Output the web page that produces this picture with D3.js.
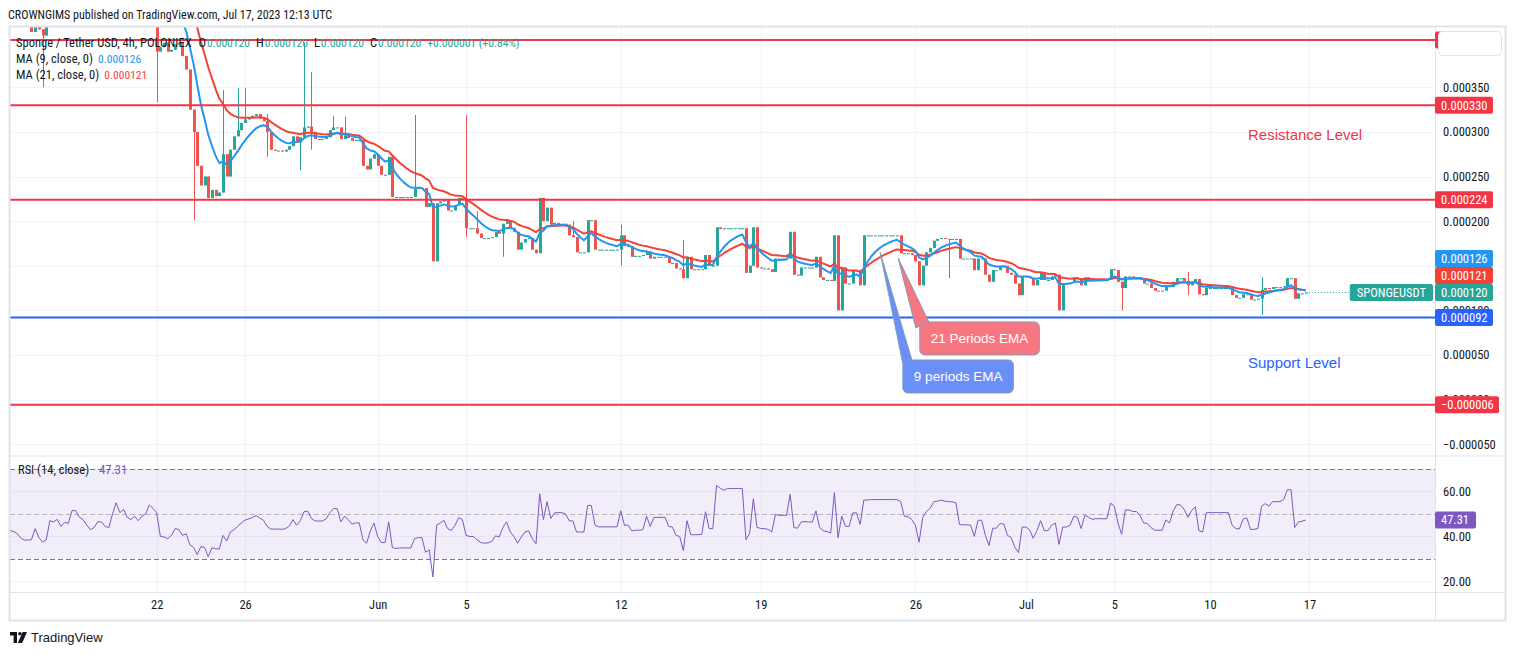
<!DOCTYPE html>
<html lang="en">
<head>
<meta charset="utf-8">
<title>Sponge / Tether USD, 4h</title>
<script src="https://cdn.jsdelivr.net/npm/d3@7/dist/d3.min.js"></script>
<style>
    body { margin: 0; background: #ffffff; }
    #chart-area { width: 1515px; height: 655px; }
</style>
</head>
<body>
<div id="chart-area"></div>
<script>
// prices are kept in millionths of a USDT (120 -> 0.000120)

// 4h closes, one per bar, first bar sits at the left edge of the pane
const closes = [
    560,545,530,500,470,420,412,440,415,408,
    445,470,475,490,470,485,480,530,535,520,
    515,500,490,500,515,515,505,500,540,580,
    560,575,555,550,560,550,565,575,610,600,
    390,395,400,390,392,398,400,385,370,325,
    300,262,240,250,226,235,228,232,275,250,
    280,295,302,310,314,316,318,320,315,312,
    300,280,279,279,278,280,284,295,288,294,
    305,306,300,292,292,292,294,302,305,305,
    292,296,293,290,291,291,262,258,270,275,
    262,252,252,272,227,227,227,227,227,227,
    236,237,237,216,220,155,220,222,224,212,
    212,218,226,224,192,192,192,186,181,181,
    181,182,188,186,197,200,192,188,168,176,
    180,181,168,164,226,200,215,196,198,197,
    197,196,184,182,165,165,165,201,201,168,
    168,168,168,168,168,168,184,172,172,160,
    161,161,162,166,158,160,160,160,160,153,
    153,147,146,136,160,146,146,146,146,162,
    150,150,193,191,192,192,192,192,192,192,
    142,150,193,148,147,147,146,143,158,158,
    158,158,188,140,139,148,148,148,148,160,
    137,134,134,133,184,100,148,130,130,145,
    145,128,184,184,184,184,184,184,184,184,
    184,184,164,164,164,162,155,128,150,165,
    170,178,180,181,180,180,180,180,158,158,
    158,158,145,158,158,140,132,145,145,150,
    150,142,140,130,117,138,138,136,128,134,
    142,134,134,138,140,100,130,130,131,137,
    136,128,137,135,134,134,134,134,134,146,
    145,132,125,138,138,137,137,135,130,130,
    125,122,122,122,128,126,132,136,136,133,
    128,132,135,118,117,125,125,125,125,125,
    125,125,117,114,114,118,118,112,112,113,
    123,125,124,126,126,126,127,136,136,113,
    119,119,120
];

// long shadows: [bar, high, low]
const wicks = [
    [9, 415, 350], [40, 600, 333], [50, 300, 201], [58, 347, 258], [62, 349, 300],
    [64, 349, 310], [70, 320, 272], [79, 294, 257], [80, 400, 294], [82, 367, 280],
    [88, 318, 302], [91, 317, 292], [110, 319, 227], [124, 319, 182], [127, 211, 186],
    [134, 197, 160], [153, 200, 182], [166, 196, 150], [183, 179, 136], [255, 180, 136],
    [302, 132, 100], [320, 143, 117], [340, 137, 95]
];

// RSI(14) per bar
const rsiValues = [
    42.7,42.3,41.5,39.5,38.4,38.4,38.6,43.5,39.5,37.5,
    38.5,47,46.5,47.6,44.5,46.3,45.8,51.5,51.5,48.6,
    47.5,45.1,43,44,46.5,46.5,44.5,43.9,50,55,
    50.6,52,48.5,47.5,49,47,49,50,54,52.5,
    50.5,40,39.8,39,40.5,43.5,43.1,40.5,41.2,36.3,
    35.2,32,35.5,35.2,31,35,34.5,34.5,40.5,38,
    42,43,44.5,46,47.3,47.8,48.5,49.3,48.2,47.2,
    44.5,43.3,43.3,43.3,43.2,43.5,44.6,47.5,45,47,
    51,51.3,48,46.9,46.9,46.9,47.8,50.5,52.4,52.4,
    46.5,49,47.5,45.5,46,46.1,38.5,37,42.5,46,
    40,37.3,37.3,46.5,35,34.7,34.9,34.9,34.9,34.9,
    39,39.5,39.5,33,34,22,45,46,47.2,43.5,
    42.7,45,48.4,47.5,40.5,40,40,38.5,37.3,37,
    37.2,37.8,40.3,39.8,44,46.5,42,40,37,39.8,
    42,42.5,39,36.8,59,47.5,55.5,48,50.5,50.6,
    50.6,50,47,46.9,42,42,42,53.8,53.8,45,
    44.3,44.3,44.3,44.3,44.3,44.3,51.4,45,45,42.5,
    42.8,42.8,43,49,44.5,48.5,48.5,48.5,48.5,44.5,
    44.2,40.5,40,33.7,47,40.8,40.8,40.8,41,51,
    43.5,43.5,62.7,61.5,60.6,61.3,61.3,61.3,61.3,61.3,
    38.5,41.5,56.8,44,43.6,43.5,43.2,42,49.8,49.4,
    49.4,49.4,58.7,44,43.7,46.5,46.6,46.5,46.4,51.4,
    44,42.5,42.2,41.5,59.5,39.5,49.1,44.5,44.5,50.5,
    50.5,45.4,56.2,56.2,56.4,56.4,56.4,56.4,56.4,56.4,
    56.4,56.4,55.5,49,48.8,47.5,45,37.5,48.5,51.2,
    52.5,55.5,55.7,56.2,55.7,55.5,55.4,55,45.3,45.2,
    45.2,45,40,47.2,47.2,40.5,36,43.7,43.7,45.8,
    45.5,40.5,39.5,35.2,32.8,44.2,44.2,43,39.2,42.6,
    47,42.6,42.6,45,46,36.5,44.2,44.2,45,49,
    48.5,43.5,49.4,48.6,47.6,47.9,47.9,47.9,47.9,54.8,
    53.5,46,41,51.8,51.8,51.1,51.1,49.2,46,45.8,
    43.9,42.8,42.8,42.8,47.4,46,51.4,54.2,54,52,
    48.5,51.6,53.2,42.5,42,50.6,50.6,50.6,50.6,50.6,
    50.6,50.6,45,43.5,43.4,47.8,48.2,43.1,43.2,43.6,
    53.5,54.6,53.5,55.5,55.5,55.5,56.5,60.8,60.8,44,
    46.5,46.8,47.31
];

// last bar as shown in the legend: open, high, low, close
const lastBar = [120, 120, 120, 120];
// legend values of the two averages: 9 and 21 periods
const maLast = [126, 121];

// time axis
const tickBars = [40, 64, 100, 124, 166, 204, 246, 276, 300, 326, 353];
const tickLabels = ["22", "26", "Jun", "5", "12", "19", "26", "Jul", "5", "10", "17"];

// price axis and rsi axis
const priceTicks = [-50, 0, 50, 100, 150, 200, 250, 300, 350];
const rsiTicks = [60, 40, 20];

// horizontal levels drawn on the chart
const levelPrices = [403, 330, 224, 92, -6];
const levelKinds = ["resistance", "resistance", "resistance", "support", "resistance"];

// text notes: anchored at [bar, price]
const noteTexts = ["Resistance Level", "Support Level"];
const noteBars = [336.3, 336.3];
const notePrices = [296.5, 40.9];
const noteKinds = ["resistance", "support"];

// callouts pointing at the averages
const calloutTexts = ["21 Periods EMA", "9 periods EMA"];
const calloutKinds = ["ema21", "ema9"];
const calloutTipBars = [241.3, 236.4];
const calloutTipPrices = [158.6, 165.4];
const calloutBoxBars = [247.2, 242.6];
const calloutBoxPrices = [87.0, 44.3];


class SpongeChart {

    constructor(parentElement) {
        this.parentElement = parentElement;
        this.initVis();
    }

    initVis() {
        let vis = this;

        vis.width = 1515;
        vis.height = 655;

        // frame and panes
        vis.frame = {left: 10, right: 1505, top: 27, bottom: 620};
        vis.axisX = 1435;
        vis.pricePane = {top: 27, bottom: 455};
        vis.rsiPane = {top: 457, bottom: 592};

        vis.uiFont = "'Liberation Sans Narrow', 'Roboto Condensed', Roboto, sans-serif";
        vis.drawFont = "'Liberation Sans', Arial, sans-serif";

        vis.colors = {
            text: '#131722',
            up: '#26a69a',
            down: '#ef5350',
            grid: '#f0f3fa',
            border: '#e0e3eb',
            resistance: '#f23645',
            support: '#2962ff',
            ema9: '#2196f3',
            ema21: '#f44336',
            last: '#26a69a',
            rsi: '#7e57c2'
        };

        vis.svg = d3.select("#" + vis.parentElement).append("svg")
            .attr("width", vis.width)
            .attr("height", vis.height)
            .style("display", "block");

        vis.svg.append("rect")
            .attr("width", vis.width)
            .attr("height", vis.height)
            .attr("fill", "#ffffff");

        // bar index -> x, one bar every 3.683 px
        vis.barSpacing = 3.683;
        vis.x = d3.scaleLinear()
            .domain([0.17, 0.17 + (vis.axisX - vis.frame.left) / vis.barSpacing])
            .range([vis.frame.left, vis.axisX]);

        vis.y = d3.scaleLinear()
            .domain([-62.2, 417.6])
            .range([vis.pricePane.bottom, vis.pricePane.top]);

        vis.yRsi = d3.scaleLinear()
            .domain([15.33, 75.33])
            .range([vis.rsiPane.bottom, vis.rsiPane.top]);

        vis.formatPrice = v => (v < 0 ? "\u2212" : "") + (Math.abs(v) / 1e6).toFixed(6);

        // clip paths for both panes
        let defs = vis.svg.append("defs");
        defs.append("clipPath").attr("id", "clip-price")
            .append("rect")
            .attr("x", vis.frame.left).attr("y", vis.pricePane.top)
            .attr("width", vis.axisX - vis.frame.left)
            .attr("height", vis.pricePane.bottom - vis.pricePane.top);
        defs.append("clipPath").attr("id", "clip-rsi")
            .append("rect")
            .attr("x", vis.frame.left).attr("y", vis.rsiPane.top)
            .attr("width", vis.axisX - vis.frame.left)
            .attr("height", vis.rsiPane.bottom - vis.rsiPane.top);

        vis.wrangleData();
    }

    ema(values, period) {
        let k = 2 / (period + 1);
        let prev = values[0];
        return values.map((v, i) => {
            prev = i === 0 ? v : prev + k * (v - prev);
            return prev;
        });
    }

    wrangleData() {
        let vis = this;

        vis.candles = closes.map((c, i) => {
            let o = i > 0 ? closes[i - 1] : c;
            return {i: i, open: o, close: c, high: Math.max(o, c), low: Math.min(o, c)};
        });
        wicks.forEach(w => {
            let d = vis.candles[w[0]];
            d.high = Math.max(d.high, w[1]);
            d.low = Math.min(d.low, w[2]);
        });

        vis.ema9 = vis.ema(closes, 9);
        vis.ema21 = vis.ema(closes, 21);

        let n = closes.length;
        vis.change = closes[n - 1] - closes[n - 2];
        vis.changePct = vis.change / closes[n - 2] * 100;

        vis.updateVis();
    }

    updateVis() {
        let vis = this;
        let c = vis.colors;
        let paneW = vis.axisX - vis.frame.left;

        // ---- grid ----
        let grid = vis.svg.append("g");
        grid.selectAll(".hgrid")
            .data(priceTicks)
            .enter().append("line")
            .attr("x1", vis.frame.left).attr("x2", vis.axisX)
            .attr("y1", d => Math.round(vis.y(d)) + 0.5)
            .attr("y2", d => Math.round(vis.y(d)) + 0.5)
            .attr("stroke", c.grid);
        grid.selectAll(".vgrid-p")
            .data(tickBars)
            .enter().append("line")
            .attr("x1", d => Math.round(vis.x(d)) + 0.5)
            .attr("x2", d => Math.round(vis.x(d)) + 0.5)
            .attr("y1", vis.pricePane.top).attr("y2", vis.pricePane.bottom)
            .attr("stroke", c.grid);
        grid.selectAll(".vgrid-r")
            .data(tickBars)
            .enter().append("line")
            .attr("x1", d => Math.round(vis.x(d)) + 0.5)
            .attr("x2", d => Math.round(vis.x(d)) + 0.5)
            .attr("y1", vis.rsiPane.top).attr("y2", vis.rsiPane.bottom)
            .attr("stroke", c.grid);
        grid.selectAll(".rgrid")
            .data(rsiTicks)
            .enter().append("line")
            .attr("x1", vis.frame.left).attr("x2", vis.axisX)
            .attr("y1", d => Math.round(vis.yRsi(d)) + 0.5)
            .attr("y2", d => Math.round(vis.yRsi(d)) + 0.5)
            .attr("stroke", c.grid);

        // ---- rsi band ----
        let rsiG = vis.svg.append("g").attr("clip-path", "url(#clip-rsi)");
        rsiG.append("rect")
            .attr("x", vis.frame.left)
            .attr("y", vis.yRsi(70))
            .attr("width", paneW)
            .attr("height", vis.yRsi(30) - vis.yRsi(70))
            .attr("fill", c.rsi)
            .attr("fill-opacity", 0.1);
        rsiG.selectAll(".band")
            .data([70, 50, 30])
            .enter().append("line")
            .attr("x1", vis.frame.left).attr("x2", vis.axisX)
            .attr("y1", d => Math.round(vis.yRsi(d)) + 0.5)
            .attr("y2", d => Math.round(vis.yRsi(d)) + 0.5)
            .attr("stroke", "#787b86")
            .attr("stroke-opacity", d => d === 50 ? 0.5 : 1)
            .attr("stroke-dasharray", "5,3");
        rsiG.append("path")
            .datum(rsiValues)
            .attr("fill", "none")
            .attr("stroke", c.rsi)
            .attr("stroke-width", 1)
            .attr("d", d3.line().x((d, i) => vis.x(i)).y(d => vis.yRsi(d)));

        // ---- candles ----
        let priceG = vis.svg.append("g").attr("clip-path", "url(#clip-price)");
        let candle = priceG.selectAll(".candle")
            .data(vis.candles)
            .enter().append("g")
            .attr("class", "candle");
        candle.append("line")
            .attr("x1", d => Math.round(vis.x(d.i)) + 0.5)
            .attr("x2", d => Math.round(vis.x(d.i)) + 0.5)
            .attr("y1", d => vis.y(d.high))
            .attr("y2", d => vis.y(d.low))
            .attr("stroke", d => d.close >= d.open ? c.up : c.down);
        candle.append("rect")
            .attr("x", d => Math.round(vis.x(d.i)) - 1)
            .attr("y", d => vis.y(Math.max(d.open, d.close)))
            .attr("width", 3)
            .attr("height", d => Math.max(1, Math.abs(vis.y(d.open) - vis.y(d.close))))
            .attr("fill", d => d.close >= d.open ? c.up : c.down);

        // ---- moving averages ----
        let maLine = d3.line().x((d, i) => vis.x(i)).y(d => vis.y(d));
        priceG.append("path")
            .datum(vis.ema21)
            .attr("fill", "none")
            .attr("stroke", c.ema21)
            .attr("stroke-width", 2)
            .attr("stroke-linejoin", "round")
            .attr("d", maLine);
        priceG.append("path")
            .datum(vis.ema9)
            .attr("fill", "none")
            .attr("stroke", c.ema9)
            .attr("stroke-width", 2)
            .attr("stroke-linejoin", "round")
            .attr("d", maLine);

        // ---- horizontal levels ----
        priceG.selectAll(".level")
            .data(levelPrices)
            .enter().append("line")
            .attr("x1", vis.frame.left).attr("x2", vis.axisX)
            .attr("y1", d => vis.y(d)).attr("y2", d => vis.y(d))
            .attr("stroke", (d, i) => c[levelKinds[i]])
            .attr("stroke-width", 2);

        let lastI = closes.length - 1;
        let lastClose = lastBar[3];

        // ---- notes ----
        vis.svg.selectAll(".note")
            .data(noteTexts)
            .enter().append("text")
            .attr("x", (d, i) => vis.x(noteBars[i]))
            .attr("y", (d, i) => vis.y(notePrices[i]))
            .attr("dy", "0.35em")
            .attr("font-family", vis.drawFont)
            .attr("font-size", 15)
            .attr("fill", (d, i) => c[noteKinds[i]])
            .text(d => d);

        // ---- callouts ----
        let calloutFill = {ema21: "#f7767f", ema9: "#6a8ff9"};
        let tailBase = {ema21: [-4, 6, 9, 0], ema9: [0, 4, 9, 0]};
        calloutTexts.forEach((label, i) => {
            let kind = calloutKinds[i];
            let tx = vis.x(calloutTipBars[i]), ty = vis.y(calloutTipPrices[i]);
            let bx = vis.x(calloutBoxBars[i]), by = vis.y(calloutBoxPrices[i]);
            let g = vis.svg.append("g");
            let b = tailBase[kind];
            g.append("path")
                .attr("d", `M${tx},${ty} L${bx + b[0]},${by + b[1]} L${bx + b[2]},${by + b[3]} Z`)
                .attr("fill", calloutFill[kind])
                .attr("stroke", "#7f9fb3")
                .attr("stroke-width", 1);
            let box = g.append("rect")
                .attr("x", bx).attr("y", by)
                .attr("height", 33)
                .attr("rx", 5)
                .attr("fill", calloutFill[kind])
                .attr("stroke", "#7f9fb3")
                .attr("stroke-width", 1);
            let t = g.append("text")
                .attr("x", bx + 11)
                .attr("y", by + 16.5)
                .attr("dy", "0.35em")
                .attr("font-family", vis.drawFont)
                .attr("font-size", 13.5)
                .attr("fill", "#ffffff")
                .text(label);
            box.attr("width", t.node().getComputedTextLength() + 22);
        });

        // ---- legend ----
        let valueSize = 11.6;
        let legend = vis.svg.append("g")
            .attr("font-family", vis.uiFont)
            .attr("font-size", 12.5)
            .attr("fill", c.text);
        let l1 = legend.append("text").attr("x", 16).attr("y", 42.7).attr("dy", "0.35em");
        l1.append("tspan").text("Sponge / Tether USD, 4h, POLONIEX");
        ["O", "H", "L", "C"].forEach((k, i) => {
            l1.append("tspan").attr("dx", i === 0 ? 7 : 6).text(k);
            l1.append("tspan").attr("dx", 1).attr("fill", c.up).attr("font-size", valueSize)
                .text(vis.formatPrice(lastBar[i]));
        });
        l1.append("tspan").attr("dx", 6).attr("fill", c.up).attr("font-size", valueSize)
            .text((vis.change >= 0 ? "+" : "\u2212") + vis.formatPrice(Math.abs(vis.change))
                + " (" + (vis.change >= 0 ? "+" : "\u2212") + Math.abs(vis.changePct).toFixed(2) + "%)");

        let l2 = legend.append("text").attr("x", 16).attr("y", 58.7).attr("dy", "0.35em");
        l2.append("tspan").text("MA (9, close, 0)");
        l2.append("tspan").attr("dx", 5).attr("fill", c.ema9).attr("font-size", valueSize)
            .text(vis.formatPrice(maLast[0]));
        let l3 = legend.append("text").attr("x", 16).attr("y", 75).attr("dy", "0.35em");
        l3.append("tspan").text("MA (21, close, 0)");
        l3.append("tspan").attr("dx", 5).attr("fill", c.ema21).attr("font-size", valueSize)
            .text(vis.formatPrice(maLast[1]));

        let l4 = legend.append("text").attr("x", 18).attr("y", 470).attr("dy", "0.35em");
        l4.append("tspan").text("RSI (14, close)");
        l4.append("tspan").attr("dx", 10).attr("fill", c.rsi).text(rsiValues[lastI].toFixed(2));

        // ---- frame and separators ----
        let frame = vis.svg.append("g").attr("stroke", c.border).attr("fill", "none");
        frame.append("rect")
            .attr("x", vis.frame.left - 0.5).attr("y", vis.frame.top - 0.5)
            .attr("width", vis.frame.right - vis.frame.left + 1)
            .attr("height", vis.frame.bottom - vis.frame.top + 1)
            .attr("stroke-width", 2);
        frame.append("line")
            .attr("x1", vis.axisX + 0.5).attr("x2", vis.axisX + 0.5)
            .attr("y1", vis.frame.top).attr("y2", vis.frame.bottom);
        frame.append("line")
            .attr("x1", vis.frame.left).attr("x2", vis.frame.right)
            .attr("y1", vis.pricePane.bottom + 1).attr("y2", vis.pricePane.bottom + 1);
        frame.append("line")
            .attr("x1", vis.frame.left).attr("x2", vis.frame.right)
            .attr("y1", vis.rsiPane.bottom + 0.5).attr("y2", vis.rsiPane.bottom + 0.5);

        // ---- axes ----
        let styleAxis = g => {
            g.attr("font-family", vis.uiFont).attr("font-size", 12.5).attr("color", c.text);
            g.select(".domain").remove();
        };
        vis.svg.append("g")
            .attr("transform", `translate(${vis.axisX},0)`)
            .call(d3.axisRight(vis.y).tickValues(priceTicks).tickFormat(vis.formatPrice).tickSize(0).tickPadding(8))
            .call(styleAxis);
        vis.svg.append("g")
            .attr("transform", `translate(${vis.axisX},0)`)
            .call(d3.axisRight(vis.yRsi).tickValues(rsiTicks).tickFormat(d3.format(".2f")).tickSize(0).tickPadding(8))
            .call(styleAxis);
        vis.svg.append("g")
            .attr("transform", `translate(0,${vis.rsiPane.bottom})`)
            .call(d3.axisBottom(vis.x).tickValues(tickBars).tickFormat((d, i) => tickLabels[i]).tickSize(0).tickPadding(8))
            .call(styleAxis);

        // ---- price labels on the axis ----
        let marks = levelPrices.map((v, i) => ({value: v, kind: levelKinds[i]}))
            .concat([
                {value: lastClose, kind: "last"},
                {value: maLast[1], kind: "ema21"},
                {value: maLast[0], kind: "ema9"}
            ])
            .sort((a, b) => a.value - b.value);
        let boxH = 17;
        let prevY = Infinity;
        marks.forEach(m => {
            m.cy = Math.min(vis.y(m.value), prevY - boxH);
            prevY = m.cy;
        });
        let markG = vis.svg.append("g")
            .attr("font-family", vis.uiFont)
            .attr("font-size", 12.5);
        let mark = markG.selectAll(".mark")
            .data(marks)
            .enter().append("g");
        mark.append("rect")
            .attr("x", vis.axisX)
            .attr("y", d => d.cy - boxH / 2)
            .attr("width", d => d.value < 0 ? 64 : 58)
            .attr("height", boxH)
            .attr("rx", 2)
            .attr("fill", d => c[d.kind]);
        mark.append("text")
            .attr("x", vis.axisX + 6)
            .attr("y", d => d.cy)
            .attr("dy", "0.35em")
            .attr("fill", "#ffffff")
            .text(d => vis.formatPrice(d.value));

        // symbol tag and dotted line for the last price
        let lastY = marks.find(m => m.kind === "last").cy;
        let tag = markG.append("g");
        let tagText = tag.append("text")
            .attr("y", lastY)
            .attr("dy", "0.35em")
            .attr("fill", "#ffffff")
            .text("SPONGEUSDT");
        let tagW = tagText.node().getComputedTextLength() + 14;
        let tagX = vis.axisX - 2 - tagW;
        tag.insert("rect", "text")
            .attr("x", tagX).attr("y", lastY - boxH / 2)
            .attr("width", tagW).attr("height", boxH)
            .attr("rx", 2)
            .attr("fill", c.last);
        tagText.attr("x", tagX + 7);
        vis.svg.append("line")
            .attr("x1", vis.x(lastI) + 3).attr("x2", tagX)
            .attr("y1", Math.round(vis.y(lastClose)) + 0.5)
            .attr("y2", Math.round(vis.y(lastClose)) + 0.5)
            .attr("stroke", c.last)
            .attr("stroke-dasharray", "1,2");

        // rsi value tag
        let rsiLast = rsiValues[lastI];
        markG.append("rect")
            .attr("x", vis.axisX).attr("y", vis.yRsi(rsiLast) - boxH / 2)
            .attr("width", 41).attr("height", boxH)
            .attr("rx", 2)
            .attr("fill", c.rsi);
        markG.append("text")
            .attr("x", vis.axisX + 6).attr("y", vis.yRsi(rsiLast))
            .attr("dy", "0.35em")
            .attr("fill", "#ffffff")
            .text(rsiLast.toFixed(2));

        // small button over the top-right corner of the price scale
        vis.svg.append("rect")
            .attr("x", vis.axisX + 3.5).attr("y", 31.5)
            .attr("width", 63).attr("height", 24)
            .attr("rx", 4)
            .attr("fill", "#ffffff")
            .attr("stroke", c.border);

        // ---- header and footer ----
        vis.svg.append("text")
            .attr("x", 8).attr("y", 15)
            .attr("dy", "0.35em")
            .attr("font-family", vis.uiFont)
            .attr("font-size", 12)
            .attr("fill", c.text)
            .text("CROWNGIMS published on TradingView.com, Jul 17, 2023 12:13 UTC");

        let logo = vis.svg.append("g")
            .attr("transform", "translate(10,632)")
            .attr("fill", c.text);
        logo.append("path").attr("d", "M0,0 H7 V11 H3.6 V3.4 H0 Z");
        logo.append("circle").attr("cx", 9.9).attr("cy", 1.8).attr("r", 1.8);
        logo.append("path").attr("d", "M12.6,0 H17 L12.2,11 H7.8 Z");
        vis.svg.append("text")
            .attr("x", 31).attr("y", 637.5)
            .attr("dy", "0.35em")
            .attr("font-family", vis.drawFont)
            .attr("font-size", 13)
            .attr("fill", c.text)
            .text("TradingView");
    }
}

new SpongeChart("chart-area");
</script>
</body>
</html>
